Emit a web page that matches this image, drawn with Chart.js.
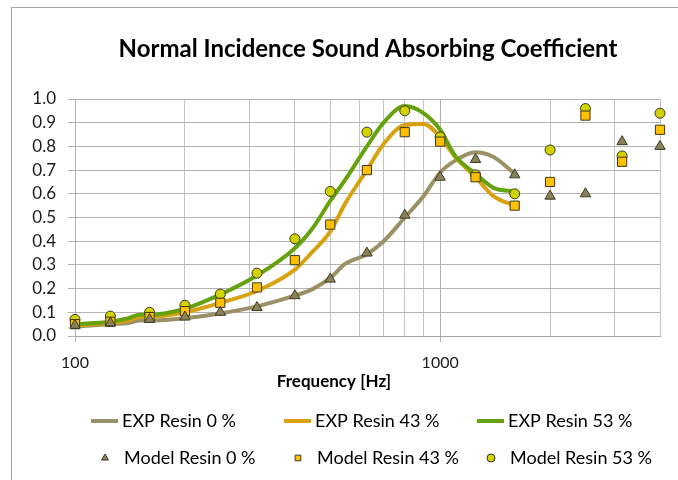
<!DOCTYPE html>
<html>
<head>
<meta charset="utf-8">
<script src="https://cdn.jsdelivr.net/npm/chart.js@4.4.0/dist/chart.umd.min.js"></script>
<style>
  body { margin: 0; background: #fff; }
  canvas { display: block; }
</style>
</head>
<body>
<canvas id="absorb-chart" width="678" height="480"></canvas>
<script>
// measured curves (EXP) - frequency in Hz
const expFreq = [100, 125, 140, 150, 160, 200, 250, 315, 400, 450, 500, 550, 630, 700, 800, 900, 1000, 1100, 1250, 1400, 1600];
const expResin0 = [0.04, 0.05, 0.055, 0.065, 0.065, 0.075, 0.095, 0.125, 0.17, 0.20, 0.245, 0.305, 0.345, 0.40, 0.50, 0.59, 0.69, 0.74, 0.775, 0.755, 0.685];
const expResin43 = [0.045, 0.055, 0.065, 0.08, 0.08, 0.10, 0.14, 0.19, 0.28, 0.36, 0.44, 0.56, 0.70, 0.81, 0.89, 0.895, 0.84, 0.755, 0.67, 0.59, 0.55];
const expResin53 = [0.05, 0.06, 0.075, 0.09, 0.09, 0.115, 0.175, 0.255, 0.37, 0.46, 0.57, 0.66, 0.80, 0.90, 0.97, 0.94, 0.87, 0.76, 0.685, 0.625, 0.61];

// model points, 1/3 octave bands
const modelFreq = [100, 125, 160, 200, 250, 315, 400, 500, 630, 800, 1000, 1250, 1600, 2000, 2500, 3150, 4000];
const modelResin0 = [0.045, 0.055, 0.07, 0.08, 0.10, 0.12, 0.17, 0.24, 0.35, 0.51, 0.67, 0.745, 0.68, 0.59, 0.60, 0.82, 0.80];
const modelResin43 = [0.05, 0.06, 0.08, 0.105, 0.14, 0.205, 0.32, 0.47, 0.70, 0.86, 0.82, 0.67, 0.55, 0.65, 0.93, 0.735, 0.87];
const modelResin53 = [0.07, 0.084, 0.10, 0.13, 0.177, 0.265, 0.41, 0.61, 0.86, 0.95, 0.84, 0.68, 0.60, 0.785, 0.96, 0.76, 0.94];

const seriesNames = ['EXP Resin 0 %', 'EXP Resin 43 %', 'EXP Resin 53 %', 'Model Resin 0 %', 'Model Resin 43 %', 'Model Resin 53 %'];
const xGridValues = [100, 200, 300, 400, 500, 600, 700, 800, 900, 1000, 2000, 3000, 4000];
const xLabelValues = [100, 1000];
const chartTitle = 'Normal Incidence Sound Absorbing Coefficient';
const xTitle = 'Frequency [Hz]';

function toPoints(xs, ys) {
    return xs.map((x, i) => ({x: x, y: ys[i]}));
}

function expLine(name, vals, color, ord) {
    return {
        label: name,
        data: toPoints(expFreq, vals),
        showLine: true,
        borderColor: color,
        backgroundColor: color,
        borderWidth: 4,
        pointRadius: 0,
        pointHoverRadius: 0,
        cubicInterpolationMode: 'monotone',
        pointStyle: 'line',
        clip: false,
        order: ord
    };
}

function modelPts(name, vals, style, fill, radius) {
    return {
        label: name,
        data: toPoints(modelFreq, vals),
        showLine: false,
        pointStyle: style,
        pointRadius: radius,
        pointBackgroundColor: fill,
        pointBorderColor: '#3b3826',
        pointBorderWidth: 1,
        backgroundColor: fill,
        borderColor: '#3b3826',
        clip: false,
        order: 0
    };
}

// legend grid like excel: 3 columns x 2 rows
const legendCols = [91, 284, 477];
const legendRows = [421, 458];

const decor = {
    id: 'decor',
    afterDraw(chart) {
        const ctx = chart.ctx;
        ctx.save();
        // outer frame
        ctx.strokeStyle = '#a6a6a6';
        ctx.lineWidth = 1;
        ctx.strokeRect(11.5, 7.5, 700, 600);

        ctx.fillStyle = '#000';
        ctx.textAlign = 'center';
        ctx.textBaseline = 'alphabetic';
        ctx.font = 'bold 24px Lato';
        ctx.fillText(chartTitle, 368, 57);
        ctx.font = 'bold 17px Lato';
        ctx.fillText(xTitle, 334, 387);

        // legend
        ctx.textAlign = 'left';
        ctx.textBaseline = 'middle';
        ctx.font = '18px Lato';
        chart.data.datasets.forEach((ds, i) => {
            const row = i < 3 ? 0 : 1;
            const x0 = legendCols[i % 3];
            const y = legendRows[row];
            if (row === 0) {
                ctx.strokeStyle = ds.borderColor;
                ctx.lineWidth = 4;
                ctx.beginPath();
                ctx.moveTo(x0, y);
                ctx.lineTo(x0 + 27, y);
                ctx.stroke();
                ctx.fillStyle = '#000';
                ctx.fillText(ds.label, x0 + 31, y);
            } else {
                ctx.fillStyle = ds.pointBackgroundColor;
                ctx.strokeStyle = ds.pointBorderColor;
                ctx.lineWidth = 1;
                Chart.helpers.drawPoint(ctx, {pointStyle: ds.pointStyle, radius: 4, rotation: 0, borderWidth: 1}, x0 + 14, y);
                ctx.fillStyle = '#000';
                ctx.fillText(ds.label, x0 + 33, y);
            }
        });
        ctx.restore();
    }
};

Chart.defaults.font.family = 'Lato';
Chart.defaults.color = '#1a1a1a';

const gridGray = '#b3b3b3';

new Chart(document.getElementById('absorb-chart'), {
    type: 'scatter',
    data: {
        datasets: [
            expLine(seriesNames[0], expResin0, '#9a9166', 3),
            expLine(seriesNames[1], expResin43, '#d7a10f', 2),
            expLine(seriesNames[2], expResin53, '#66a20f', 1),
            modelPts(seriesNames[3], modelResin0, 'triangle', '#8c8258', 6),
            modelPts(seriesNames[4], modelResin43, 'rect', '#ffc000', 6.5),
            modelPts(seriesNames[5], modelResin53, 'circle', '#d2d200', 5)
        ]
    },
    options: {
        responsive: false,
        animation: false,
        layout: {padding: {top: 99, right: 18, bottom: 0, left: 0}},
        plugins: {
            legend: {display: false},
            title: {display: false},
            tooltip: {enabled: false}
        },
        scales: {
            x: {
                type: 'logarithmic',
                min: 100,
                max: 4000,
                afterBuildTicks: (scale) => {
                    scale.ticks = xGridValues.map(v => ({value: v}));
                },
                afterFit: (scale) => { scale.height = 144; },
                ticks: {
                    autoSkip: false,
                    maxRotation: 0,
                    padding: 11,
                    font: {size: 16},
                    callback: (v) => xLabelValues.includes(v) ? String(v) : ''
                },
                grid: {
                    color: (c) => c.tick && xLabelValues.includes(c.tick.value) ? '#b0b0b0' : '#c4c4c4',
                    tickColor: (c) => c.tick && xLabelValues.includes(c.tick.value) ? '#b0b0b0' : 'rgba(0,0,0,0)',
                    tickLength: 6
                },
                border: {color: '#a6a6a6'}
            },
            y: {
                min: 0,
                max: 1,
                afterFit: (scale) => { scale.width = 75; },
                ticks: {
                    stepSize: 0.1,
                    padding: 12,
                    font: {size: 17},
                    callback: (v) => Number(v).toFixed(1)
                },
                grid: {
                    color: gridGray,
                    tickColor: gridGray,
                    tickLength: 7
                },
                border: {color: gridGray}
            }
        }
    },
    plugins: [decor]
});
</script>
</body>
</html>
